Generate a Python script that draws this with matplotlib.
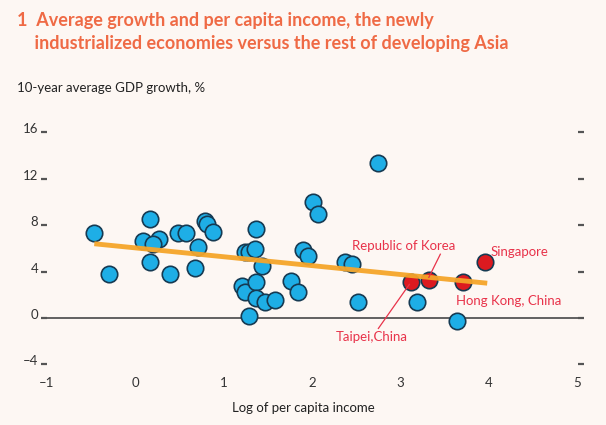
import matplotlib
matplotlib.use("Agg")
import matplotlib.pyplot as plt
import matplotlib.transforms as mtransforms

# ---- data ----
blue_x = [-0.46, -0.29, 0.17, 0.09, 0.27, 0.20, 0.17, 0.39, 0.49, 0.58, 0.71, 0.68,
          0.79, 0.81, 0.88, 1.37, 1.24, 1.29, 1.36, 1.44, 1.21, 1.24, 1.37, 1.37,
          1.47, 1.58, 1.76, 1.84, 1.90, 1.96, 2.01, 2.07, 2.75, 2.37, 2.45, 2.52,
          3.19, 3.64, 1.29]
blue_y = [7.31, 3.81, 8.57, 6.62, 6.85, 6.36, 4.79, 3.76, 7.31, 7.37, 6.13, 4.33,
          8.37, 8.08, 7.42, 7.71, 5.70, 5.70, 5.99, 4.50, 2.78, 2.21, 3.12, 1.69,
          1.40, 1.57, 3.21, 2.21, 5.87, 5.31, 10.0, 8.94, 13.39, 4.84, 4.64, 1.35,
          1.40, -0.23, 0.15]

nie_names = ["Taipei,China", "Republic of Korea", "Hong Kong, China", "Singapore"]
nie_x = [3.12, 3.32, 3.71, 3.96]
nie_y = [3.07, 3.29, 3.07, 4.79]

trend_x = [-0.46, 3.98]
trend_y = [6.40, 3.00]

x_ticks = [-1, 0, 1, 2, 3, 4, 5]
y_ticks = [-4, 0, 4, 8, 12, 16]
y_ticklabels = ["\u20134", "0", "4", "8", "12", "16"]
x_ticklabels = ["\u20131", "0", "1", "2", "3", "4", "5"]

title = ("1  Average growth and per capita income, the newly\n"
         "    industrialized economies versus the rest of developing Asia")
ylabel = "10-year average GDP growth, %"
xlabel = "Log of per capita income"

# ---- style ----
bg = "#fdf7f3"
blue = "#1eaee6"
red = "#dc1a20"
edge = "#163a52"
orange = "#f5a52a"
annot_col = "#e8334a"
title_col = "#ef6a45"
text_col = "#333333"
plt.rcParams['font.family'] = ['Lato', 'DejaVu Sans']

W, H = 606, 425
fig = plt.figure(figsize=(W / 100, H / 100), dpi=100, facecolor=bg)
left_px, right_px = 46.5, 577.5
top_px, bot_px = 132.4, 364.4
ax = fig.add_axes([left_px / W, 1 - bot_px / H, (right_px - left_px) / W, (bot_px - top_px) / H])
ax.set_facecolor(bg)
ax.set_xlim(-1, 5)
ax.set_ylim(-4, 16)
for s in ax.spines.values():
    s.set_visible(False)

ax.axhline(0, color="#555555", lw=1.3, zorder=1)

ax.scatter(blue_x, blue_y, s=140, c=blue, edgecolors=edge, linewidths=1.2, zorder=3, clip_on=False)
ax.scatter(nie_x, nie_y, s=140, c=red, edgecolors=edge, linewidths=1.2, zorder=3, clip_on=False)
ax.plot(trend_x, trend_y, color=orange, lw=3.5, solid_capstyle='butt', zorder=4, alpha=0.95)

# annotations
ax.text(2.45, 6.2, nie_names[1], color=annot_col, fontsize=9.5, ha='left', va='center', zorder=5)
ax.plot([3.32, 3.45], [3.5, 5.5], color=annot_col, lw=0.9, zorder=5)
ax.text(4.02, 5.7, nie_names[3], color=annot_col, fontsize=9.5, ha='left', va='center', zorder=5)
ax.text(3.63, 1.5, nie_names[2], color=annot_col, fontsize=9.5, ha='left', va='center', zorder=5)
ax.plot([3.10, 2.75], [2.9, -0.9], color=annot_col, lw=0.9, zorder=5)
ax.text(2.68, -1.65, nie_names[0], color=annot_col, fontsize=9.5, ha='center', va='center', zorder=5)

ax.set_xticks(x_ticks)
ax.set_xticklabels(x_ticklabels)
ax.set_yticks(y_ticks)
ax.set_yticklabels(y_ticklabels)
ax.tick_params(axis='x', length=0, pad=9, labelsize=9.5, colors=text_col)
ax.tick_params(axis='y', which='both', left=True, right=True, direction='out', length=4,
               width=1.6, color="#555555", pad=2, labelsize=9.5, labelcolor=text_col)
off = mtransforms.ScaledTranslation(0, 4 / 100, fig.dpi_scale_trans)
for lab in ax.get_yticklabels():
    lab.set_transform(lab.get_transform() + off)

fig.text(17 / W, 1 - 12 / H, title, color=title_col, fontsize=13, fontweight='bold',
         ha='left', va='top', linespacing=1.4)
fig.text(17 / W, 1 - 88 / H, ylabel, color="#222222", fontsize=9.5, ha='left', va='center')
fig.text(303 / W, 1 - 408 / H, xlabel, color="#222222", fontsize=9.5, ha='center', va='center')

fig.savefig("out.png", dpi=100, facecolor=bg)
